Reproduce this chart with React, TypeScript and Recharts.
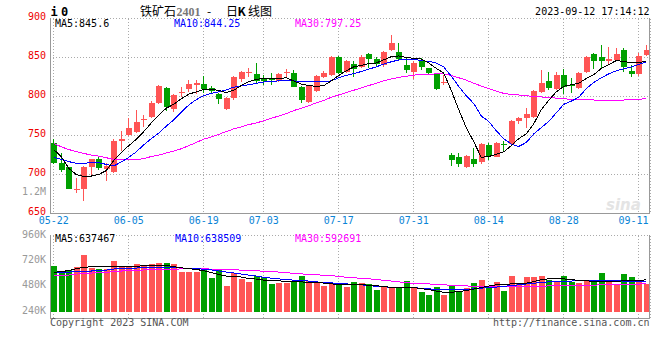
import { ComposedChart, Bar, Line, XAxis, YAxis, CartesianGrid } from 'recharts';

// 铁矿石2401 日K线 (Sina style), 2023-05-22 .. 2023-09-12
const dates = [
  '05-22', '05-23', '05-24', '05-25', '05-26', '05-29', '05-30', '05-31', '06-01', '06-02',
  '06-05', '06-06', '06-07', '06-08', '06-09', '06-12', '06-13', '06-14', '06-15', '06-16',
  '06-19', '06-20', '06-21', '06-26', '06-27', '06-28', '06-29', '06-30', '07-03', '07-04',
  '07-05', '07-06', '07-07', '07-10', '07-11', '07-12', '07-13', '07-14', '07-17', '07-18',
  '07-19', '07-20', '07-21', '07-24', '07-25', '07-26', '07-27', '07-28', '07-31', '08-01',
  '08-02', '08-03', '08-04', '08-07', '08-08', '08-09', '08-10', '08-11', '08-14', '08-15',
  '08-16', '08-17', '08-18', '08-21', '08-22', '08-23', '08-24', '08-25', '08-28', '08-29',
  '08-30', '08-31', '09-01', '09-04', '09-05', '09-06', '09-07', '09-08', '09-11', '09-12',
];

const opens = [
  740, 715, 709, 679.5, 681, 710, 720.5, 707.5, 703.5, 743,
  750.5, 755, 770, 774, 792, 811, 783.5, 804, 809.5, 815,
  816, 811, 803, 784, 798, 822, 830.5, 829, 823, 822.5,
  820, 830, 830.5, 812, 793.5, 807.5, 825.5, 827.5, 851, 832,
  841.5, 838, 855, 847.5, 840.5, 859, 857.5, 840.5, 832, 846,
  836, 829.5, 817, 725, 723, 710, 720.5, 716.5, 738, 723,
  739, 739, 768, 773, 774, 806, 820, 809.5, 827.5, 815,
  811, 831, 854, 851, 845, 847, 859.5, 833, 829, 853,
];
const highs = [
  745, 727, 710, 695, 711, 720.5, 722, 714.5, 745, 756,
  772, 782.5, 776, 794, 815, 812.5, 803, 812.5, 821, 821,
  826, 813.5, 805, 799, 826, 833, 836, 842.5, 827, 830,
  830, 835, 834, 813, 814, 827, 833, 852, 852, 847,
  846, 853, 856, 851, 858, 879, 868, 849, 845, 850,
  837, 830, 827.5, 727, 727, 725, 733.5, 740, 740, 742,
  743.5, 770, 774, 785, 808, 834, 832, 832, 835, 823.5,
  832, 852, 855.5, 866, 863, 862, 862.5, 840, 856, 866,
];
const lows = [
  713, 703.5, 681, 676.5, 666, 699.5, 706, 692, 702, 729.5,
  749, 753, 761, 773, 790, 782, 780.5, 800, 806, 803,
  804, 803, 791, 783, 795, 819, 825, 817, 815, 815,
  819, 825, 812, 792, 792, 806, 824, 826, 829, 830,
  825.5, 837, 836, 838, 838, 858, 847, 830, 822, 834,
  829, 808, 814.5, 711, 710, 708.5, 710, 714, 718.5, 722,
  730.5, 738, 765, 759, 773, 805, 808, 808, 803, 804,
  809, 830, 835, 835, 842, 846, 832, 824.5, 826, 852,
];
const closes = [
  714.5, 706, 681.5, 681.5, 709.5, 719.5, 708, 711, 743, 745.5,
  760, 767.5, 771, 792, 813.5, 786, 802, 806, 815.5, 817,
  810, 807, 797, 798, 825, 832, 831, 820, 820, 821.5,
  829, 831, 812.5, 795, 813, 826, 830.5, 851, 830.5, 846,
  835, 851, 847.5, 841.5, 857.5, 868, 847.5, 834, 843.5, 838,
  830.5, 809, 818, 718.5, 714, 723.5, 713.5, 739, 723.5, 740,
  738.5, 768.5, 773, 777.5, 807, 817.5, 810.5, 827.5, 812.5, 814.5,
  830.5, 851, 846, 845, 848, 854.5, 837.5, 828.5, 852, 859.5,
];

const ma5 = [
  732, 723, 708, 700, 697.5, 698, 700, 705, 718, 728,
  737, 745, 755, 766, 776, 785, 790, 797, 803, 806,
  809, 809, 808, 805, 808, 814, 819, 822, 823, 823,
  823, 824, 820, 816, 814, 813, 814, 820, 827, 833,
  838, 840, 842, 843, 847, 851, 852, 850, 849, 848,
  843, 836, 830, 808, 783, 760, 742, 722, 723, 726,
  729, 737, 746, 752, 765, 783, 795, 806, 813, 815,
  817, 823, 828, 836, 841, 846, 845, 843, 843, 845.6,
];
const ma10 = [
  722, 719.5, 716.5, 714.5, 714.5, 715, 715, 713, 711, 716,
  722, 729, 738, 746, 753, 762, 770, 780, 789, 796,
  801, 804, 806, 808.5, 812, 813.5, 815, 817, 818.5, 819.5,
  820, 820.5, 820, 819, 819, 819, 819, 820, 824, 827,
  829.5, 832, 835, 838, 841.5, 844.5, 846.8, 847.5, 847.7, 846,
  845, 843, 838, 826, 813, 801, 791, 775, 768, 756,
  746, 739, 736, 741, 752, 760, 768, 779, 790, 794,
  799, 810, 818, 824, 829, 833, 835.5, 838, 841, 844.25,
];
const ma30 = [
  740, 735.5, 732, 729.5, 727, 725, 723.5, 721.5, 719.5, 719,
  718.6, 718.8, 720.5, 723, 725, 727.5, 730, 733, 737, 741,
  745.5, 748, 751.5, 755, 758.5, 761, 764, 766, 769, 772,
  775, 778, 782, 785, 788, 792, 795, 799, 802, 805,
  808, 811, 814, 817, 820, 822.5, 824.5, 826, 827.5, 828,
  828.5, 829, 829, 827, 824, 821, 817, 813.5, 810, 807,
  804, 802.5, 802, 801, 800, 799.5, 798.5, 798, 797, 796.5,
  796, 795.8, 795.5, 795.5, 795.5, 795.5, 795.5, 796, 796.5, 797.25,
];

// volume, thousands of lots
const vols = [
  676, 612, 638, 666, 780, 650, 645, 645, 723, 676,
  660, 695, 676, 688, 704, 704, 695, 612, 619, 619,
  657, 555, 645, 486, 603, 550, 518, 574, 565, 502,
  508, 512, 534, 574, 534, 518, 480, 512, 512, 470,
  524, 512, 502, 448, 480, 461, 470, 534, 461, 423,
  401, 470, 401, 480, 439, 461, 508, 543, 486, 524,
  439, 581, 512, 572, 565, 581, 543, 518, 581, 518,
  508, 543, 524, 603, 518, 493, 593, 565, 534, 502,
];
const volMa5 = [
  612, 619, 628, 647, 657, 666, 669, 669, 669, 666,
  662, 666, 676, 676, 676, 676, 666, 654, 647, 638,
  628, 609, 591, 576, 574, 567, 553, 548, 538, 534,
  531, 527, 524, 521, 518, 518, 510, 502, 498, 493,
  493, 493, 491, 486, 477, 470, 470, 470, 467, 458,
  448, 434, 423, 423, 429, 439, 453, 467, 482, 493,
  496, 502, 505, 510, 524, 543, 550, 550, 550, 543,
  534, 531, 527, 524, 524, 527, 531, 534, 537, 540,
];
const volMa10 = [
  612, 612, 614, 619, 619, 624, 628, 633, 643, 647,
  650, 652, 657, 657, 659, 660, 657, 654, 649, 645,
  642, 635, 624, 614, 605, 595, 586, 576, 565, 557,
  550, 543, 538, 534, 529, 521, 518, 512, 507, 502,
  498, 493, 486, 480, 475, 470, 470, 470, 467, 460,
  455, 452, 448, 448, 448, 450, 455, 462, 467, 472,
  479, 486, 493, 502, 507, 518, 521, 524, 524, 529,
  534, 534, 534, 534, 534, 532, 529, 527, 524, 524,
];
const volMa30 = [
  581, 581, 586, 595, 600, 605, 607, 611, 619, 624,
  628, 630, 634, 636, 637, 638, 641, 644, 645, 645,
  645, 642, 640, 637, 635, 633, 628, 626, 622, 619,
  614, 609, 602, 597, 592, 589, 583, 581, 573, 565,
  560, 555, 551, 543, 537, 529, 522, 512, 509, 505,
  502, 498, 493, 490, 486, 483, 480, 479, 477, 477,
  477, 477, 477, 477, 479, 480, 483, 486, 486, 486,
  486, 488, 491, 493, 495, 496, 498, 499, 501, 502,
];

const dateTicks = ['05-22', '06-05', '06-19', '07-03', '07-17', '07-31', '08-14', '08-28', '09-11'];
const priceTicks = [650, 700, 750, 800, 850, 900];
const volTicks = [240, 480, 720, 960];
const VOL_FLOOR = 240;

const UP = '#ff5555';
const DOWN = '#00a000';
const GRID = '#aaaaaa';
const FRAME = '#999999';
const MONO = '"DejaVu Sans Mono", monospace';
const CJK = '"Noto Sans CJK SC", sans-serif';
const PLOT_RIGHT = 650;

const rows = dates.map((date, i) => ({
  date,
  open: opens[i],
  high: highs[i],
  low: lows[i],
  close: closes[i],
  ma5: ma5[i],
  ma10: ma10[i],
  ma30: ma30[i],
  vol: vols[i],
  volMa5: volMa5[i],
  volMa10: volMa10[i],
  volMa30: volMa30[i],
}));

function Candle(props: any) {
  const { x, y, width, height, payload } = props;
  const { open, close, high, low } = payload;
  const color = close >= open ? UP : DOWN;
  const top = Math.min(y, y + height);
  const h = Math.abs(height);
  const k = high > low ? h / (high - low) : 0;
  const yOf = (v: number) => top + (high - v) * k;
  const bx = Math.round(x + width / 2 - 3);
  const bodyTop = yOf(Math.max(open, close));
  const bodyH = Math.max(1, yOf(Math.min(open, close)) - bodyTop);
  return (
    <g shapeRendering="crispEdges">
      <rect x={bx + 2} y={top} width={1} height={Math.max(1, h)} fill={color} />
      <rect x={bx} y={bodyTop} width={6} height={bodyH} fill={color} />
    </g>
  );
}

function VolBar(props: any) {
  const { x, y, width, height, payload } = props;
  const top = Math.min(y, y + height);
  return (
    <rect
      x={Math.round(x + width / 2 - 3)}
      y={top}
      width={6}
      height={Math.abs(height)}
      fill={payload.close >= payload.open ? UP : DOWN}
      shapeRendering="crispEdges"
    />
  );
}

function DateTick({ x, y, payload }: any) {
  const nearEdge = x + 15 > PLOT_RIGHT;
  return (
    <text x={nearEdge ? PLOT_RIGHT - 1.5 : x} y={y + 10.5} textAnchor={nearEdge ? 'end' : 'middle'}
      fontFamily={MONO} fontSize={10} fill="#0a84d6">
      {payload.value}
    </text>
  );
}

function PriceTick({ x, y, payload }: any) {
  return (
    <text x={x} y={y + 1} textAnchor="end" fontFamily={MONO} fontSize={10} fill="#ee0000">
      {payload.value}
    </text>
  );
}

function VolTick({ x, y, payload }: any) {
  return (
    <text x={x} y={y + 2} textAnchor="end" fontFamily={MONO} fontSize={10} fill="#999999">
      {payload.value}K
    </text>
  );
}

const css = `
.recharts-cartesian-grid line { shape-rendering: crispEdges; }
.recharts-line-curve { shape-rendering: crispEdges; }
`;

export default function App() {
  return (
    <div style={{ position: 'fixed', left: 0, top: 0, width: 660, height: 360, background: '#fff' }}>
      <style>{css}</style>
      <div style={{ position: 'absolute', left: 0, top: 0 }}>
        <ComposedChart width={660} height={234} data={rows} margin={{ top: 18.5, right: 10, bottom: 0.5, left: 0 }}>
          <CartesianGrid stroke={GRID} strokeDasharray="1 2" />
          <XAxis dataKey="date" ticks={dateTicks} interval={0} tickLine={false} axisLine={false}
            tickSize={0} tickMargin={0} height={20} tick={<DateTick />} />
          <YAxis domain={[650, 900]} ticks={priceTicks} interval={0} width={50} tickLine={false}
            axisLine={false} tickSize={0} tickMargin={4} tick={<PriceTick />} />
          <Bar dataKey={(d: any) => [d.low, d.high]} barSize={6} shape={<Candle />} isAnimationActive={false} />
          <Line dataKey="ma30" type="linear" stroke="#ff00ff" strokeWidth={1} dot={false} isAnimationActive={false} />
          <Line dataKey="ma10" type="linear" stroke="#0000ff" strokeWidth={1} dot={false} isAnimationActive={false} />
          <Line dataKey="ma5" type="linear" stroke="#000000" strokeWidth={1} dot={false} isAnimationActive={false} />
        </ComposedChart>
      </div>
      <div style={{ position: 'absolute', left: 0, top: 225 }}>
        <ComposedChart width={660} height={95} data={rows} margin={{ top: 10.5, right: 10, bottom: 1.5, left: 0 }}>
          <CartesianGrid stroke={GRID} strokeDasharray="1 2" />
          <XAxis dataKey="date" ticks={dateTicks} interval={0} hide />
          {/* quarter lines of the volume panel */}
          <YAxis orientation="right" width={0} domain={[0, 4]} ticks={[1, 2, 3, 4]} hide />
          <YAxis yAxisId="vol" domain={[175, 960]} ticks={volTicks} interval={0} width={50} tickLine={false}
            axisLine={false} tickSize={0} tickMargin={4} tick={<VolTick />} />
          <Bar yAxisId="vol" dataKey={(d: any) => [VOL_FLOOR, d.vol]} barSize={6} shape={<VolBar />} isAnimationActive={false} />
          <Line yAxisId="vol" dataKey="volMa30" type="linear" stroke="#ff00ff" strokeWidth={1} dot={false} isAnimationActive={false} />
          <Line yAxisId="vol" dataKey="volMa10" type="linear" stroke="#0000ff" strokeWidth={1} dot={false} isAnimationActive={false} />
          <Line yAxisId="vol" dataKey="volMa5" type="linear" stroke="#000000" strokeWidth={1} dot={false} isAnimationActive={false} />
        </ComposedChart>
      </div>
      <svg width={660} height={360} style={{ position: 'absolute', left: 0, top: 0, pointerEvents: 'none' }}>
        <g stroke={FRAME} strokeWidth={1} shapeRendering="crispEdges">
          <line x1={50.5} y1={18} x2={50.5} y2={214} />
          <line x1={649.5} y1={18} x2={649.5} y2={214} />
          <line x1={50} y1={213.5} x2={650} y2={213.5} />
          <line x1={50.5} y1={235} x2={50.5} y2={319} />
          <line x1={649.5} y1={235} x2={649.5} y2={319} />
          <line x1={50} y1={318.5} x2={650} y2={318.5} />
        </g>
        <text x={606} y={210} fontFamily="Verdana, 'DejaVu Sans', sans-serif" fontSize={15} fontWeight="bold"
          fontStyle="italic" fill="#e4e4e4">sina</text>
        <text x={50.5} y={16} fontFamily={MONO} fontSize={12} fontWeight="bold" fill="#000">i</text>
        <text x={61} y={16} fontFamily={MONO} fontSize={12} fontWeight="bold" fill="#000">0</text>
        <text y={15.5} fontFamily={CJK} fontSize={12} fill="#000">
          <tspan x={140}>铁矿石</tspan>
          <tspan x={176.5} fontFamily='"Liberation Serif", serif' fontWeight="bold" fill="#777">2401</tspan>
          <tspan x={207}>-</tspan>
          <tspan x={226}>日</tspan>
          <tspan x={237.5} fontWeight="bold">K</tspan>
          <tspan x={248}>线图</tspan>
        </text>
        <text x={649.5} y={15} textAnchor="end" fontFamily={MONO} fontSize={10} fill="#000">2023-09-12 17:14:12</text>
        <text x={55} y={27} fontFamily={MONO} fontSize={10} fill="#000">MA5:845.6</text>
        <text x={174} y={27} fontFamily={MONO} fontSize={10} fill="#0000ff">MA10:844.25</text>
        <text x={295} y={27} fontFamily={MONO} fontSize={10} fill="#ff00ff">MA30:797.25</text>
        <text x={46} y={194.5} textAnchor="end" fontFamily={MONO} fontSize={10} fill="#999">1.2M</text>
        <text x={55} y={242} fontFamily={MONO} fontSize={10} fill="#000">MA5:637467</text>
        <text x={175} y={242} fontFamily={MONO} fontSize={10} fill="#0000ff">MA10:638509</text>
        <text x={295} y={242} fontFamily={MONO} fontSize={10} fill="#ff00ff">MA30:592691</text>
        <text x={50} y={326} fontFamily={MONO} fontSize={10} fill="#555">Copyright 2023 SINA.COM</text>
        <text x={649.5} y={326} textAnchor="end" fontFamily={MONO} fontSize={10} fill="#555">http://finance.sina.com.cn</text>
      </svg>
    </div>
  );
}
